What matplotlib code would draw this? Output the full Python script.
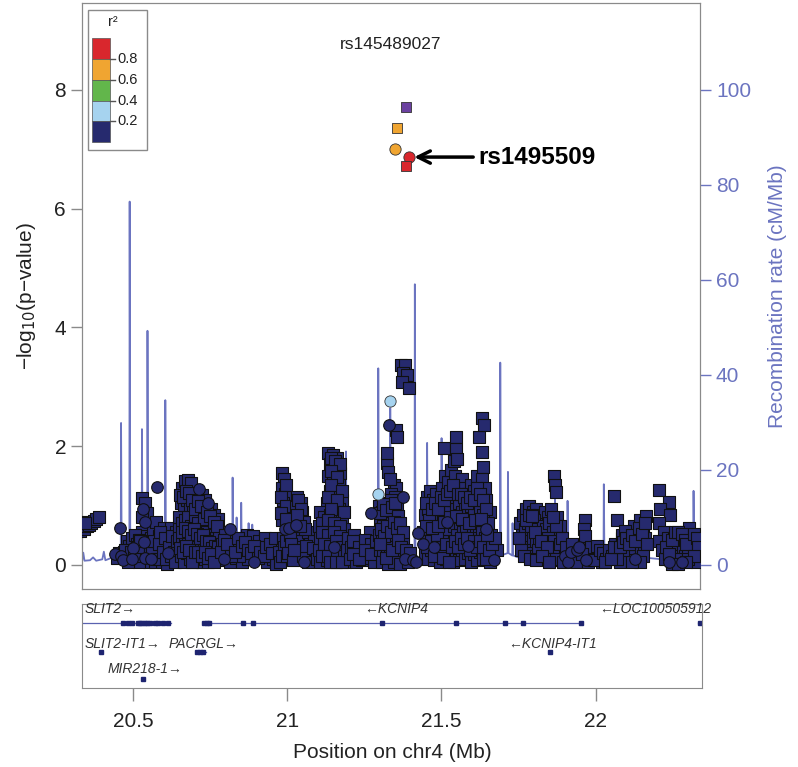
import matplotlib
matplotlib.use("Agg")
import matplotlib.pyplot as plt
from matplotlib.patches import Rectangle
import numpy as np

plt.rcParams['font.family'] = ['Liberation Sans', 'DejaVu Sans']

# ---- data (position in Mb, -log10 p) ----
snp_squares = [
    (20.328, 0.58), (20.335, 0.62), (20.342, 0.60), (20.350, 0.66), (20.357, 0.68), (20.364, 0.70),
    (20.372, 0.74), (20.380, 0.77), (20.388, 0.80), (20.332, 0.72), (20.345, 0.70),
    (20.448, 0.12), (20.455, 0.20), (20.470, 0.22),
    (20.528, 1.12), (20.540, 1.05), (20.545, 0.88), (20.528, 0.80), (20.548, 0.65), (20.530, 0.55),
    (20.542, 0.48), (20.548, 0.30), (20.528, 0.22), (20.552, 0.05),
    (20.480, 0.40), (20.488, 0.32), (20.495, 0.45), (20.505, 0.50), (20.512, 0.35), (20.518, 0.42),
    (20.485, 0.18), (20.510, 0.20), (20.520, 0.05),
    (20.560, 0.45), (20.565, 0.55), (20.570, 0.35), (20.575, 0.72), (20.580, 0.25), (20.585, 0.48),
    (20.590, 0.15), (20.595, 0.38), (20.600, 0.62), (20.605, 0.30), (20.610, 0.52), (20.620, 0.42),
    (20.625, 0.62), (20.630, 0.10), (20.635, 0.35), (20.640, 0.55), (20.645, 0.22), (20.570, 0.05),
    (20.595, 0.05), (20.612, 0.02),
    (20.475, 0.25), (20.483, 0.05), (20.492, 0.22), (20.503, 0.15), (20.515, 0.30), (20.523, 0.40),
    (20.555, 0.30), (20.562, 0.20), (20.567, 0.40), (20.578, 0.10), (20.583, 0.35), (20.588, 0.55),
    (20.598, 0.22), (20.603, 0.45), (20.608, 0.10), (20.618, 0.30), (20.623, 0.15), (20.628, 0.48),
    (20.633, 0.22), (20.638, 0.05), (20.643, 0.40), (20.648, 0.60),
    (20.660, 1.30), (20.670, 1.42), (20.680, 1.43), (20.690, 1.38), (20.700, 1.22), (20.725, 1.18),
    (20.735, 1.10), (20.755, 0.95), (20.765, 0.85), (20.775, 0.78),
    (20.655, 1.05), (20.665, 0.95), (20.675, 1.10), (20.685, 1.00), (20.695, 0.90), (20.705, 1.05),
    (20.715, 0.95), (20.725, 0.85), (20.735, 0.90), (20.745, 0.75), (20.755, 0.70), (20.765, 0.60),
    (20.650, 0.80), (20.660, 0.70), (20.670, 0.75), (20.680, 0.80), (20.690, 0.65), (20.700, 0.75),
    (20.710, 0.70), (20.720, 0.60), (20.730, 0.65), (20.740, 0.55), (20.750, 0.50), (20.760, 0.40),
    (20.770, 0.45), (20.780, 0.55),
    (20.650, 0.45), (20.660, 0.35), (20.670, 0.50), (20.680, 0.40), (20.690, 0.30), (20.700, 0.45),
    (20.710, 0.35), (20.720, 0.25), (20.730, 0.35), (20.740, 0.20), (20.750, 0.30), (20.760, 0.15),
    (20.655, 0.15), (20.665, 0.05), (20.675, 0.20), (20.685, 0.10), (20.695, 0.15), (20.705, 0.05),
    (20.715, 0.12), (20.725, 0.05), (20.735, 0.10), (20.745, 0.05), (20.770, 0.20), (20.780, 0.08),
    (20.652, 1.18), (20.662, 1.15), (20.672, 1.25), (20.683, 1.22), (20.693, 1.10), (20.703, 0.95),
    (20.712, 1.08), (20.722, 1.00), (20.732, 0.78), (20.742, 0.90), (20.752, 0.82), (20.762, 0.72),
    (20.772, 0.65), (20.658, 0.55), (20.668, 0.62), (20.678, 0.58), (20.688, 0.50), (20.698, 0.60),
    (20.708, 0.52), (20.718, 0.45), (20.728, 0.50), (20.738, 0.40), (20.748, 0.38), (20.758, 0.28),
    (20.768, 0.32), (20.778, 0.30), (20.653, 0.28), (20.663, 0.22), (20.673, 0.32), (20.683, 0.25),
    (20.693, 0.05), (20.703, 0.22), (20.713, 0.22), (20.723, 0.15), (20.733, 0.22), (20.743, 0.12),
    (20.753, 0.18), (20.763, 0.05),
    (20.790, 0.35), (20.800, 0.50), (20.810, 0.25), (20.830, 0.40), (20.840, 0.30), (20.850, 0.45),
    (20.860, 0.20), (20.870, 0.50), (20.880, 0.35), (20.890, 0.48), (20.900, 0.25), (20.910, 0.40),
    (20.920, 0.30), (20.930, 0.45), (20.940, 0.15), (20.950, 0.35), (20.960, 0.25), (20.970, 0.40),
    (20.815, 0.05), (20.835, 0.12), (20.855, 0.05), (20.875, 0.10), (20.915, 0.12), (20.935, 0.05),
    (20.955, 0.10), (20.965, 0.02), (20.805, 0.18), (20.825, 0.28), (20.845, 0.15),
    (20.785, 0.22), (20.797, 0.42), (20.807, 0.35), (20.820, 0.15), (20.833, 0.22), (20.843, 0.45),
    (20.853, 0.32), (20.865, 0.38), (20.873, 0.25), (20.885, 0.20), (20.893, 0.32), (20.905, 0.12),
    (20.912, 0.22), (20.925, 0.15), (20.933, 0.30), (20.945, 0.35), (20.952, 0.20), (20.962, 0.45),
    (20.975, 0.22), (20.978, 0.05),
    (20.985, 1.55), (20.990, 1.45), (20.985, 1.30), (20.995, 1.20), (20.988, 1.05), (20.992, 0.90),
    (20.985, 0.75), (20.988, 0.45), (20.992, 0.30), (20.985, 0.15),
    (20.998, 1.35), (20.983, 1.15), (20.997, 1.00), (20.983, 0.88), (20.998, 0.78), (20.997, 0.40),
    (21.000, 0.15),
    (21.035, 1.15), (21.045, 1.05), (21.030, 0.98), (21.050, 0.90), (21.040, 0.80), (21.055, 0.72),
    (21.045, 0.55), (21.060, 0.45), (21.035, 0.40), (21.050, 0.30), (21.065, 0.20), (21.040, 0.15),
    (21.010, 0.50), (21.015, 0.35), (21.005, 0.20), (21.020, 0.08), (21.070, 0.55), (21.075, 0.35),
    (21.080, 0.15), (21.090, 0.40), (21.095, 0.25),
    (21.038, 1.10), (21.048, 0.95), (21.033, 0.85), (21.058, 0.60), (21.042, 0.65), (21.038, 0.25),
    (21.052, 0.15), (21.062, 0.32), (21.068, 0.05), (21.025, 0.25), (21.085, 0.28), (21.098, 0.10),
    (21.135, 1.88), (21.150, 1.85), (21.165, 1.80), (21.140, 1.70), (21.160, 1.65), (21.175, 1.55),
    (21.135, 1.50), (21.150, 1.40), (21.170, 1.35), (21.140, 1.25), (21.160, 1.20), (21.180, 1.10),
    (21.130, 1.05), (21.150, 1.00), (21.170, 0.95), (21.110, 0.90), (21.120, 0.80), (21.140, 0.85),
    (21.160, 0.80), (21.180, 0.75), (21.105, 0.65), (21.125, 0.60), (21.145, 0.65), (21.165, 0.55),
    (21.185, 0.60), (21.110, 0.45), (21.130, 0.40), (21.150, 0.45), (21.170, 0.35), (21.190, 0.40),
    (21.105, 0.25), (21.120, 0.20), (21.140, 0.25), (21.160, 0.15), (21.180, 0.20), (21.110, 0.05),
    (21.130, 0.08), (21.150, 0.05), (21.170, 0.08), (21.190, 0.05),
    (21.143, 1.80), (21.158, 1.75), (21.172, 1.70), (21.145, 1.58), (21.165, 1.48), (21.145, 1.35),
    (21.180, 1.25), (21.135, 1.15), (21.165, 1.10), (21.145, 0.95), (21.185, 0.90), (21.115, 0.70),
    (21.135, 0.75), (21.155, 0.70), (21.175, 0.65), (21.115, 0.55), (21.135, 0.50), (21.155, 0.55),
    (21.175, 0.48), (21.120, 0.35), (21.140, 0.32), (21.160, 0.40), (21.180, 0.30), (21.115, 0.15),
    (21.135, 0.15), (21.165, 0.22), (21.185, 0.15), (21.140, 0.05), (21.160, 0.05), (21.180, 0.05),
    (21.195, 0.25),
    (21.200, 0.45), (21.210, 0.30), (21.220, 0.50), (21.230, 0.20), (21.240, 0.40), (21.250, 0.15),
    (21.260, 0.35), (21.270, 0.55), (21.280, 0.25), (21.205, 0.10), (21.225, 0.05), (21.245, 0.08),
    (21.265, 0.12), (21.285, 0.05), (21.215, 0.40), (21.235, 0.30), (21.255, 0.42), (21.275, 0.35),
    (21.215, 0.18), (21.235, 0.10), (21.255, 0.25), (21.275, 0.18), (21.290, 0.40),
    (21.327, 1.72), (21.330, 1.57), (21.350, 1.35), (21.356, 2.27), (21.359, 2.15), (21.356, 1.30),
    (21.327, 1.88), (21.340, 1.20), (21.352, 1.15), (21.335, 1.45),
    (21.300, 1.00), (21.310, 0.90), (21.320, 1.05), (21.330, 0.95), (21.340, 1.10), (21.350, 0.85),
    (21.360, 0.95), (21.305, 0.75), (21.315, 0.65), (21.325, 0.80), (21.335, 0.70), (21.345, 0.60),
    (21.355, 0.75), (21.365, 0.55), (21.300, 0.50), (21.310, 0.40), (21.320, 0.55), (21.330, 0.45),
    (21.340, 0.35), (21.350, 0.50), (21.360, 0.30), (21.370, 0.45), (21.305, 0.25), (21.315, 0.15),
    (21.325, 0.30), (21.335, 0.20), (21.345, 0.10), (21.355, 0.22), (21.365, 0.12), (21.375, 0.20),
    (21.310, 0.05), (21.330, 0.02), (21.350, 0.05), (21.370, 0.02), (21.380, 0.35),
    (21.303, 0.88), (21.313, 1.02), (21.323, 0.92), (21.343, 0.98), (21.353, 1.05), (21.363, 0.82),
    (21.308, 0.60), (21.318, 0.48), (21.328, 0.65), (21.338, 0.55), (21.348, 0.72), (21.358, 0.62),
    (21.368, 0.70), (21.378, 0.55), (21.303, 0.35), (21.323, 0.12), (21.343, 0.25), (21.363, 0.42),
    (21.372, 0.30), (21.388, 0.25),
    (21.372, 3.37), (21.385, 3.37), (21.378, 3.23), (21.390, 3.20), (21.375, 3.08), (21.398, 2.98),
    (21.395, 0.05), (21.400, 0.20),
    (21.455, 1.15), (21.465, 1.25), (21.475, 1.10), (21.485, 1.20), (21.495, 1.05), (21.505, 1.30),
    (21.515, 1.50), (21.513, 1.97), (21.525, 1.40), (21.535, 1.60), (21.545, 1.75), (21.552, 2.15),
    (21.550, 1.95), (21.555, 1.78), (21.548, 1.50), (21.560, 1.35), (21.570, 1.45), (21.580, 1.30),
    (21.590, 1.20), (21.600, 1.35), (21.610, 1.25), (21.620, 1.50), (21.627, 2.15), (21.634, 2.47),
    (21.643, 2.36), (21.636, 1.90), (21.640, 1.65), (21.635, 1.45), (21.645, 1.30), (21.650, 1.10),
    (21.660, 0.90),
    (21.450, 0.85), (21.460, 0.95), (21.470, 0.75), (21.480, 0.90), (21.490, 0.80), (21.500, 0.95),
    (21.510, 0.85), (21.520, 1.00), (21.530, 0.90), (21.540, 1.10), (21.550, 0.95), (21.560, 1.05),
    (21.570, 0.90), (21.580, 1.00), (21.590, 0.85), (21.600, 1.00), (21.610, 0.90), (21.620, 1.05),
    (21.630, 0.95), (21.640, 0.85), (21.655, 0.70),
    (21.445, 0.55), (21.455, 0.45), (21.465, 0.60), (21.475, 0.50), (21.485, 0.35), (21.495, 0.55),
    (21.505, 0.40), (21.515, 0.60), (21.525, 0.30), (21.545, 0.65), (21.555, 0.50), (21.565, 0.70),
    (21.575, 0.55), (21.585, 0.65), (21.595, 0.45), (21.605, 0.60), (21.615, 0.50), (21.625, 0.65),
    (21.635, 0.55), (21.645, 0.45), (21.655, 0.35), (21.665, 0.50),
    (21.450, 0.20), (21.460, 0.10), (21.470, 0.25), (21.480, 0.08), (21.490, 0.18), (21.500, 0.05),
    (21.510, 0.22), (21.520, 0.10), (21.530, 0.15), (21.540, 0.05), (21.550, 0.20), (21.560, 0.08),
    (21.570, 0.25), (21.580, 0.10), (21.590, 0.20), (21.600, 0.05), (21.610, 0.18), (21.620, 0.08),
    (21.630, 0.22), (21.640, 0.10), (21.650, 0.20), (21.660, 0.05), (21.670, 0.15), (21.683, 0.25),
    (21.452, 1.05), (21.462, 0.75), (21.472, 0.95), (21.482, 1.05), (21.492, 0.95), (21.502, 1.15),
    (21.512, 1.10), (21.522, 1.20), (21.532, 1.25), (21.542, 1.35), (21.558, 1.20), (21.568, 1.20),
    (21.578, 1.15), (21.588, 1.05), (21.598, 1.15), (21.608, 1.10), (21.618, 1.30), (21.628, 1.20),
    (21.638, 1.10), (21.648, 0.95), (21.458, 0.30), (21.468, 0.40), (21.478, 0.15), (21.488, 0.50),
    (21.498, 0.30), (21.508, 0.12), (21.518, 0.35), (21.528, 0.05), (21.538, 0.30), (21.548, 0.40),
    (21.558, 0.30), (21.568, 0.45), (21.578, 0.35), (21.588, 0.45), (21.598, 0.25), (21.608, 0.40),
    (21.618, 0.30), (21.628, 0.40), (21.638, 0.30), (21.648, 0.10), (21.658, 0.25), (21.668, 0.35),
    (21.678, 0.45), (21.452, 0.65), (21.472, 0.62), (21.492, 0.65), (21.512, 0.72), (21.532, 0.80),
    (21.552, 0.82), (21.572, 0.78), (21.592, 0.70), (21.612, 0.75), (21.632, 0.78), (21.652, 0.50),
    (21.760, 0.70), (21.770, 0.85), (21.780, 0.95), (21.790, 1.00), (21.800, 0.90), (21.810, 0.95),
    (21.820, 0.85), (21.830, 0.75), (21.840, 0.90), (21.850, 0.80), (21.860, 0.95), (21.870, 1.50),
    (21.872, 1.35), (21.875, 1.23), (21.880, 0.80), (21.890, 0.65),
    (21.765, 0.50), (21.775, 0.60), (21.785, 0.70), (21.795, 0.65), (21.805, 0.75), (21.815, 0.60),
    (21.825, 0.55), (21.835, 0.65), (21.845, 0.60), (21.855, 0.70), (21.865, 0.55), (21.875, 0.65),
    (21.885, 0.45), (21.770, 0.35), (21.780, 0.40), (21.790, 0.30), (21.800, 0.45), (21.810, 0.35),
    (21.820, 0.40), (21.830, 0.30), (21.840, 0.35), (21.850, 0.45), (21.860, 0.30), (21.870, 0.40),
    (21.880, 0.30), (21.890, 0.20), (21.785, 0.20), (21.805, 0.15), (21.825, 0.20), (21.845, 0.15),
    (21.865, 0.18), (21.885, 0.08),
    (21.755, 0.45), (21.762, 0.25), (21.772, 0.15), (21.778, 0.75), (21.788, 0.85), (21.798, 0.82),
    (21.808, 0.55), (21.818, 0.25), (21.828, 0.40), (21.838, 0.10), (21.848, 0.30), (21.858, 0.10),
    (21.868, 0.80), (21.878, 0.10), (21.888, 0.35), (21.895, 0.45), (21.792, 0.10), (21.812, 0.08),
    (21.832, 0.15), (21.852, 0.05),
    (21.935, 0.10), (21.955, 0.12), (21.965, 0.30), (21.970, 0.76), (21.968, 0.60), (21.972, 0.48),
    (21.985, 0.20), (21.995, 0.10), (22.005, 0.22), (22.015, 0.15), (22.025, 0.05), (21.910, 0.30),
    (21.930, 0.35), (21.990, 0.30), (22.010, 0.32), (21.900, 0.05), (21.920, 0.12), (21.940, 0.05),
    (21.960, 0.18), (21.980, 0.05), (22.000, 0.08), (22.020, 0.25),
    (22.065, 1.16),
    (22.030, 0.20), (22.040, 0.10), (22.050, 0.25), (22.060, 0.15), (22.070, 0.35), (22.080, 0.20),
    (22.090, 0.45), (22.100, 0.30), (22.110, 0.55), (22.120, 0.40), (22.130, 0.65), (22.140, 0.50),
    (22.150, 0.75), (22.160, 0.60), (22.170, 0.82), (22.165, 0.45), (22.155, 0.30), (22.145, 0.20),
    (22.125, 0.25), (22.115, 0.15), (22.105, 0.08), (22.095, 0.20), (22.085, 0.05), (22.075, 0.10),
    (22.075, 0.76), (22.090, 0.50), (22.100, 0.58),
    (22.035, 0.05), (22.055, 0.10), (22.065, 0.30), (22.085, 0.30), (22.095, 0.38), (22.105, 0.45),
    (22.115, 0.35), (22.125, 0.50), (22.135, 0.40), (22.145, 0.62), (22.155, 0.52), (22.165, 0.70),
    (22.172, 0.35), (22.160, 0.15), (22.150, 0.05), (22.125, 0.05),
    (22.212, 1.26), (22.245, 1.06), (22.216, 0.94), (22.248, 0.84), (22.212, 0.71), (22.228, 0.55),
    (22.210, 0.40), (22.220, 0.25), (22.230, 0.10),
    (22.240, 0.45), (22.250, 0.30), (22.255, 0.15), (22.260, 0.45), (22.270, 0.50), (22.280, 0.45),
    (22.290, 0.30), (22.295, 0.15), (22.265, 0.05), (22.275, 0.10), (22.300, 0.55), (22.310, 0.62),
    (22.320, 0.40), (22.330, 0.25), (22.340, 0.15), (22.345, 0.35), (22.305, 0.25), (22.315, 0.08),
    (22.335, 0.05), (22.235, 0.30), (22.245, 0.18), (22.255, 0.42), (22.265, 0.55), (22.275, 0.55),
    (22.285, 0.52), (22.295, 0.42), (22.300, 0.35), (22.305, 0.10), (22.325, 0.52), (22.335, 0.45),
    (22.340, 0.30), (22.325, 0.15), (22.255, 0.02), (22.275, 0.02), (22.300, 0.05),
]

snp_circles = [
    (20.456, 0.63), (20.440, 0.18), (20.462, 0.15), (20.468, 0.08), (20.578, 1.32), (20.532, 0.95),
    (20.538, 0.72), (20.535, 0.38), (20.540, 0.12), (20.500, 0.28), (20.498, 0.10), (20.615, 0.20),
    (20.560, 0.10), (20.715, 1.28), (20.745, 1.05), (20.817, 0.61), (20.795, 0.10), (20.895, 0.05),
    (20.995, 0.60), (21.006, 0.62), (21.030, 0.68), (21.055, 0.05), (21.155, 0.30), (21.275, 0.87),
    (21.333, 2.36), (21.379, 1.15), (21.385, 0.10), (21.410, 0.08), (21.420, 0.05), (21.428, 0.54),
    (21.445, 0.35), (21.478, 0.30), (21.522, 0.72), (21.590, 0.32), (21.650, 0.60), (21.676, 0.08),
    (21.905, 0.15), (21.915, 0.05), (21.925, 0.22), (21.945, 0.25), (21.950, 0.30), (21.975, 0.08),
    (22.245, 0.05), (22.285, 0.05), (22.135, 0.10),
]

# r2 category of the few SNPs that are not in the lowest bin
ld_pos = [21.297, 21.337, 21.359, 21.353, 21.398, 21.389]
ld_logp = [1.20, 2.77, 7.36, 7.00, 6.87, 6.72]
ld_marker = ['o', 'o', 's', 'o', 'o', 's']
ld_bin = [1, 1, 3, 3, 4, 4]

index_pos, index_logp = 21.389, 7.71
index_name = 'rs145489027'
arrow_name = 'rs1495509'

recomb = [
    (20.334, 0.8), (20.338, 2.6), (20.342, 0.9), (20.360, 1.0), (20.370, 1.6), (20.380, 0.9),
    (20.400, 1.2), (20.405, 2.8), (20.410, 1.0), (20.430, 1.5), (20.440, 2.5), (20.450, 3.0),
    (20.460, 2.0), (20.461, 29.9), (20.463, 2.0), (20.488, 1.5), (20.489, 76.5), (20.491, 1.5),
    (20.528, 1.2), (20.529, 28.6), (20.531, 1.2), (20.546, 1.0), (20.547, 49.3), (20.549, 1.0),
    (20.580, 1.2), (20.604, 1.0), (20.605, 34.7), (20.607, 1.0), (20.650, 1.5), (20.700, 1.2),
    (20.750, 1.0), (20.800, 1.2), (20.823, 1.0), (20.824, 18.4), (20.826, 1.0), (20.836, 1.5),
    (20.837, 10.0), (20.839, 1.5), (20.851, 1.2), (20.852, 13.1), (20.854, 1.2), (20.875, 1.2),
    (20.876, 8.8), (20.878, 1.2), (20.887, 1.0), (20.888, 8.5), (20.890, 1.0), (20.950, 1.0),
    (21.000, 1.5), (21.020, 4.0), (21.030, 1.2), (21.080, 1.0), (21.100, 2.5), (21.120, 1.0),
    (21.150, 1.2), (21.192, 1.2), (21.193, 23.9), (21.195, 1.2), (21.250, 1.0), (21.297, 1.2),
    (21.298, 41.4), (21.300, 1.2), (21.336, 1.5), (21.337, 33.0), (21.339, 1.5), (21.370, 1.0),
    (21.416, 1.5), (21.417, 59.1), (21.419, 1.5), (21.456, 1.2), (21.457, 25.7), (21.459, 1.2),
    (21.503, 1.5), (21.504, 26.7), (21.506, 1.5), (21.550, 1.0), (21.600, 1.5), (21.650, 1.2),
    (21.694, 2.0), (21.695, 42.6), (21.697, 2.0), (21.719, 2.5), (21.720, 19.6), (21.722, 2.5),
    (21.734, 2.0), (21.735, 8.8), (21.737, 2.0), (21.757, 1.5), (21.758, 4.6), (21.760, 1.5),
    (21.800, 1.5), (21.840, 2.0), (21.872, 1.5), (21.873, 15.0), (21.875, 1.5), (21.913, 1.5),
    (21.914, 13.5), (21.916, 1.5), (21.950, 1.5), (21.980, 2.0), (22.031, 1.5), (22.032, 17.0),
    (22.034, 1.5), (22.080, 1.5), (22.120, 2.0), (22.170, 1.5), (22.171, 10.9), (22.173, 1.5),
    (22.220, 1.2), (22.270, 1.5), (22.323, 1.5), (22.324, 15.6), (22.326, 1.5), (22.345, 1.2),
]

# genes: name, start, end, row, strand, exon positions
genes = [
    ('SLIT2', 20.334, 20.622, 0, '+',
     [20.467, 20.484, 20.497, 20.516, 20.523, 20.529, 20.539, 20.546, 20.556, 20.572, 20.582, 20.598, 20.614]),
    ('KCNIP4', 20.728, 21.954, 0, '-',
     [20.729, 20.739, 20.745, 20.856, 20.889, 21.307, 21.546, 21.706, 21.765, 21.954]),
    ('LOC100505912', 22.332, 22.342, 0, '-', [22.337]),
    ('SLIT2-IT1', 20.394, 20.396, 1, '+', [20.395]),
    ('PACRGL', 20.706, 20.735, 1, '+', [20.708, 20.718, 20.728]),
    ('KCNIP4-IT1', 21.851, 21.855, 1, '-', [21.853]),
    ('MIR218-1', 20.532, 20.534, 2, '+', [20.533]),
]
gene_label_x = [20.343, 21.248, 22.012, 20.343, 20.614, 21.716, 20.418]

r2_colors = ['#262a6e', '#a6d3ef', '#62b64b', '#f0a531', '#d9272d']
r2_edges = [0.2, 0.4, 0.6, 0.8]
index_color = '#6b41a0'
recomb_color = '#6b74c0'
axis_gray = '#8a8a8a'
text_col = '#222222'

fig = plt.figure(figsize=(7.98, 7.67), dpi=100)
ax = fig.add_axes([0.1028, 0.2321, 0.7744, 0.764])
ax2 = ax.twinx()
axg = fig.add_axes([0.1028, 0.103, 0.7769, 0.1095])

xlim = (20.334, 22.345)
ymax = 9.465
ymin = -0.404

rp = np.array([r[0] for r in recomb])
rr = np.array([r[1] for r in recomb])
ax2.plot(rp, rr, color=recomb_color, lw=1.3)
ax2.set_ylim(ymin * 12.5, ymax * 12.5)
ax2.set_yticks([0, 20, 40, 60, 80, 100])
ax2.tick_params(axis='y', colors=recomb_color, labelsize=15, length=8, width=1)
ax2.set_ylabel('Recombination rate (cM/Mb)', color=recomb_color, fontsize=15, labelpad=12)

ax.set_zorder(ax2.get_zorder() + 1)
ax.patch.set_visible(False)

sq = np.array(snp_squares)
ci = np.array(snp_circles)
ax.scatter(sq[:, 0], sq[:, 1], marker='s', s=64, c=r2_colors[0], edgecolors='#101010', linewidths=0.8, zorder=3)
ax.scatter(ci[:, 0], ci[:, 1], marker='o', s=70, c=r2_colors[0], edgecolors='#101010', linewidths=0.8, zorder=3)
for x, y, m, b in zip(ld_pos, ld_logp, ld_marker, ld_bin):
    ax.scatter(x, y, marker=m, s=58 if m == 's' else 66, c=r2_colors[b], edgecolors='#333333',
               linewidths=0.6, zorder=4)
ax.scatter(index_pos, index_logp, marker='s', s=55, c=index_color, edgecolors='#333333', linewidths=0.6, zorder=5)

ax.text(0.5, 0.93, index_name, transform=ax.transAxes, ha='center', va='center', fontsize=12.5, color=text_col)
ax.annotate(arrow_name, xy=(21.415, 6.87), xytext=(21.625, 6.87), ha='left', va='center',
            fontsize=17.5, fontweight='bold', color='black',
            arrowprops=dict(arrowstyle='->', lw=2.5, color='black', shrinkA=2, shrinkB=0,
                            mutation_scale=22))

ax.set_xlim(*xlim)
ax.set_ylim(ymin, ymax)
ax.set_xticks([])
ax.set_yticks([0, 2, 4, 6, 8])
ax.tick_params(axis='y', labelsize=15, length=8, width=1, color=axis_gray, labelcolor=text_col)
ax.set_ylabel('\u2212log$_{10}$(p\u2212value)', fontsize=15, color=text_col, labelpad=12)
for s in ax.spines.values():
    s.set_color(axis_gray)
for s in ax2.spines.values():
    s.set_color(axis_gray)

# r2 legend
ax.add_patch(Rectangle((0.0097, 0.749), 0.0953, 0.239, transform=ax.transAxes, facecolor='white',
                       edgecolor=axis_gray, lw=1, zorder=6))
band_top = [0.9403, 0.9044, 0.8686, 0.8328, 0.7986]
band_bot = [0.9044, 0.8686, 0.8328, 0.7986, 0.7628]
for i, col in enumerate(r2_colors[::-1]):
    ax.add_patch(Rectangle((0.0162, band_bot[i]), 0.0291, band_top[i] - band_bot[i], transform=ax.transAxes,
                           facecolor=col, edgecolor='#555555', lw=0.5, zorder=7))
for i, v in enumerate(r2_edges[::-1]):
    yb = band_bot[i]
    ax.plot([0.0453, 0.053], [yb, yb], transform=ax.transAxes, color='#555555', lw=1, zorder=7)
    ax.text(0.057, yb, f'{v:.1f}', transform=ax.transAxes, ha='left', va='center', fontsize=10.5,
            color=text_col, zorder=7)
ax.text(0.05, 0.968, 'r\u00b2', transform=ax.transAxes, ha='center', va='center', fontsize=10.5,
        color=text_col, zorder=7)

# gene track
row_y = [0.774, 0.43, 0.11]
label_y = [0.94, 0.52, 0.23]
for (name, start, end, row, strand, exons), lx in zip(genes, gene_label_x):
    y = row_y[row]
    axg.plot([start, end], [y, y], color='#5a62b0', lw=0.9)
    axg.plot(exons, [y] * len(exons), ls='none', marker='s', ms=2.6, color='#1e2470')
    lab = name + '\u2192' if strand == '+' else '\u2190' + name
    axg.text(lx, label_y[row], lab, ha='left', va='center', fontsize=10, style='italic', color='#333333')

axg.set_xlim(*xlim)
axg.set_ylim(0, 1)
axg.set_yticks([])
axg.set_xticks([20.5, 21, 21.5, 22])
axg.set_xticklabels(['20.5', '21', '21.5', '22'])
axg.tick_params(axis='x', labelsize=15, length=9, width=1, color=axis_gray, labelcolor=text_col, pad=8)
axg.set_xlabel('Position on chr4 (Mb)', fontsize=15, color=text_col, labelpad=9)
for s in axg.spines.values():
    s.set_color(axis_gray)

fig.savefig('out.png', dpi=100)
